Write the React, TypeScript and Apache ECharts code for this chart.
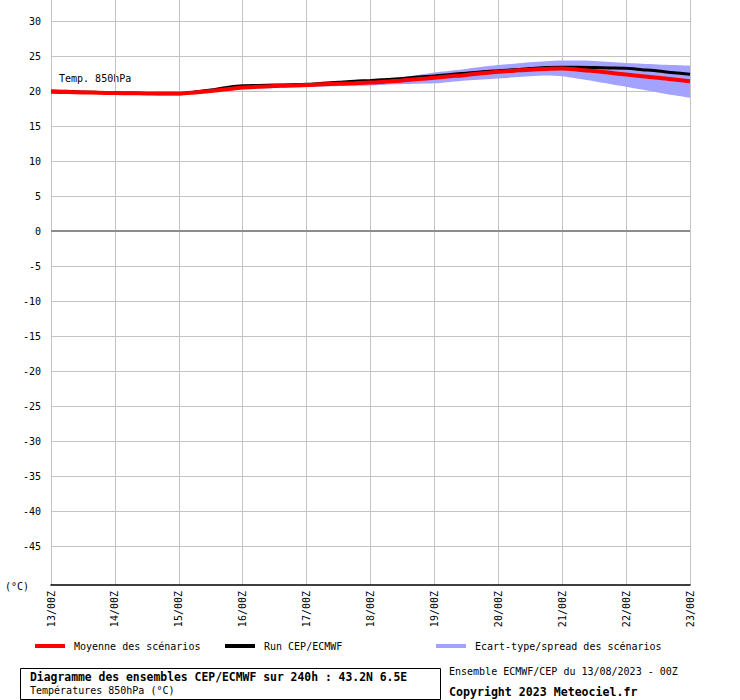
import React, { useEffect, useRef } from "react";
import * as echarts from "echarts";

const CATEGORIES = [
  "13/00Z", "13/06Z", "13/12Z", "13/18Z",
  "14/00Z", "14/06Z", "14/12Z", "14/18Z",
  "15/00Z", "15/06Z", "15/12Z", "15/18Z",
  "16/00Z", "16/06Z", "16/12Z", "16/18Z",
  "17/00Z", "17/06Z", "17/12Z", "17/18Z",
  "18/00Z", "18/06Z", "18/12Z", "18/18Z",
  "19/00Z", "19/06Z", "19/12Z", "19/18Z",
  "20/00Z", "20/06Z", "20/12Z", "20/18Z",
  "21/00Z", "21/06Z", "21/12Z", "21/18Z",
  "22/00Z", "22/06Z", "22/12Z", "22/18Z",
  "23/00Z",
];

// Moyenne des scénarios (ensemble mean)
const MEAN = [
  19.9, 19.85, 19.8, 19.75,
  19.7, 19.68, 19.66, 19.65,
  19.65, 19.8, 20.0, 20.25,
  20.5, 20.6, 20.7, 20.8,
  20.85, 20.95, 21.05, 21.12,
  21.2, 21.35, 21.5, 21.7,
  21.9, 22.1, 22.3, 22.55,
  22.75, 22.9, 23.05, 23.15,
  23.2, 23.05, 22.85, 22.6,
  22.35, 22.1, 21.9, 21.65,
  21.4,
];

// Run CEP/ECMWF (control run)
const RUN = [
  20.0, 19.95, 19.85, 19.8,
  19.75, 19.7, 19.65, 19.6,
  19.6, 19.85, 20.15, 20.5,
  20.75, 20.8, 20.85, 20.9,
  20.95, 21.1, 21.25, 21.4,
  21.5, 21.65, 21.8, 22.0,
  22.15, 22.35, 22.55, 22.75,
  22.9, 23.05, 23.2, 23.35,
  23.4, 23.4, 23.35, 23.3,
  23.25, 23.05, 22.85, 22.6,
  22.4,
];

// Spread band: upper and lower edges
const SPREAD_UPPER = [
  20.1, 20.05, 20.0, 19.95,
  19.9, 19.85, 19.85, 19.85,
  19.85, 20.0, 20.2, 20.45,
  20.65, 20.8, 20.9, 20.95,
  21.0, 21.15, 21.3, 21.4,
  21.5, 21.75, 22.0, 22.3,
  22.65, 22.9, 23.15, 23.45,
  23.7, 23.9, 24.1, 24.25,
  24.35, 24.35, 24.3, 24.15,
  24.0, 23.9, 23.8, 23.7,
  23.6,
];
const SPREAD_LOWER = [
  19.7, 19.65, 19.6, 19.55,
  19.5, 19.45, 19.45, 19.45,
  19.45, 19.6, 19.8, 20.05,
  20.3, 20.4, 20.45, 20.5,
  20.55, 20.6, 20.7, 20.75,
  20.8, 20.9, 21.0, 21.05,
  21.1, 21.3, 21.5, 21.65,
  21.8, 21.95, 22.1, 22.2,
  22.1, 21.75, 21.4, 21.0,
  20.6, 20.2, 19.8, 19.4,
  19.05,
];

const Y_MIN = -50;
const Y_MAX = 30;
const Y_STEP = 5;

const NAME_MEAN = "Moyenne des scénarios";
const NAME_RUN = "Run CEP/ECMWF";
const NAME_SPREAD = "Ecart-type/spread des scénarios";

const MONO = "DejaVu Sans Mono";

export default function App() {
  const ref = useRef<HTMLDivElement>(null);

  useEffect(() => {
    if (!ref.current) return;
    const chart = echarts.init(ref.current, undefined, { renderer: "svg" });
    const spreadWidth = SPREAD_UPPER.map((u, i) => +(u - SPREAD_LOWER[i]).toFixed(3));
    const legendBase = {
      orient: "horizontal",
      icon: "rect",
      itemWidth: 30,
      itemHeight: 4,
      top: 641,
      padding: 0,
      selectedMode: false,
      textStyle: { fontFamily: MONO, fontSize: 10, color: "#000", padding: [0, 0, 0, 4] },
    };
    chart.setOption({
      animation: false,
      backgroundColor: "#ffffff",
      grid: [
        { left: 51, right: 50, top: 21, height: 560, containLabel: false },
        { left: 51, right: 50, top: 0, height: 585, containLabel: false },
      ],
      legend: [
        { ...legendBase, left: 35, data: [NAME_MEAN] },
        { ...legendBase, left: 225, data: [NAME_RUN] },
        { ...legendBase, left: 436, data: [NAME_SPREAD] },
      ],
      xAxis: [
        {
          gridIndex: 0,
          type: "category",
          data: CATEGORIES,
          boundaryGap: false,
          show: false,
        },
        {
          gridIndex: 1,
          type: "category",
          data: CATEGORIES,
          boundaryGap: false,
          axisLine: { show: true, onZero: false, lineStyle: { color: "#000", width: 1.5 } },
          axisTick: { show: false },
          axisLabel: {
            interval: 3,
            rotate: 90,
            margin: 6,
            fontFamily: MONO,
            fontSize: 10,
            color: "#000",
          },
          splitLine: { show: true, interval: 3, lineStyle: { color: "#c3c3c3", width: 1 } },
        },
      ],
      yAxis: [
        {
          gridIndex: 0,
          type: "value",
          min: Y_MIN,
          max: Y_MAX,
          interval: Y_STEP,
          axisLine: { show: false },
          axisTick: { show: false },
          axisLabel: {
            margin: 10,
            fontFamily: MONO,
            fontSize: 10,
            color: "#000",
            formatter: (v: number) => (v === Y_MIN ? "" : String(v)),
          },
          splitLine: { show: true, showMinLine: false, lineStyle: { color: "#c3c3c3", width: 1 } },
        },
        { gridIndex: 1, type: "value", show: false },
      ],
      series: [
        {
          name: "spread-lower",
          type: "line",
          xAxisIndex: 0,
          yAxisIndex: 0,
          data: SPREAD_LOWER,
          stack: "band",
          smooth: 0.3,
          symbol: "none",
          silent: true,
          lineStyle: { opacity: 0 },
          itemStyle: { color: "#a3a3ff" },
        },
        {
          name: NAME_SPREAD,
          type: "line",
          xAxisIndex: 0,
          yAxisIndex: 0,
          data: spreadWidth,
          stack: "band",
          smooth: 0.3,
          symbol: "none",
          silent: true,
          lineStyle: { opacity: 0 },
          itemStyle: { color: "#a3a3ff" },
          areaStyle: { color: "#a3a3ff", opacity: 1 },
        },
        {
          name: NAME_RUN,
          type: "line",
          xAxisIndex: 0,
          yAxisIndex: 0,
          data: RUN,
          smooth: 0.3,
          symbol: "none",
          lineStyle: { color: "#000", width: 3 },
          itemStyle: { color: "#000" },
        },
        {
          name: NAME_MEAN,
          type: "line",
          xAxisIndex: 0,
          yAxisIndex: 0,
          data: MEAN,
          smooth: 0.3,
          symbol: "none",
          lineStyle: { color: "#ff0000", width: 4 },
          itemStyle: { color: "#ff0000" },
          markLine: {
            silent: true,
            symbol: "none",
            label: { show: false },
            lineStyle: { color: "#8c8c8c", width: 2, type: "solid" },
            data: [{ yAxis: 0 }],
          },
        },
      ],
      graphic: [
        {
          type: "text",
          left: 59,
          top: 73,
          style: { text: "Temp. 850hPa", font: `10px "${MONO}"`, fill: "#000" },
        },
        {
          type: "text",
          left: 5,
          top: 581,
          style: { text: "(°C)", font: `10px "${MONO}"`, fill: "#000" },
        },
        {
          type: "rect",
          shape: { x: 20.5, y: 668.5, width: 420, height: 31 },
          style: { fill: "none", stroke: "#000", lineWidth: 1 },
        },
        {
          type: "text",
          left: 30,
          top: 671,
          style: {
            text: "Diagramme des ensembles CEP/ECMWF sur 240h : 43.2N 6.5E",
            font: `bold 11.4px "${MONO}"`,
            fill: "#000",
          },
        },
        {
          type: "text",
          left: 30,
          top: 685,
          style: { text: "Températures 850hPa (°C)", font: `10px "${MONO}"`, fill: "#000" },
        },
        {
          type: "text",
          left: 449,
          top: 666,
          style: { text: "Ensemble ECMWF/CEP du 13/08/2023 - 00Z", font: `10px "${MONO}"`, fill: "#000" },
        },
        {
          type: "text",
          left: 449,
          top: 686,
          style: { text: "Copyright 2023 Meteociel.fr", font: `bold 11.6px "${MONO}"`, fill: "#000" },
        },
      ],
    });
    return () => chart.dispose();
  }, []);

  return <div ref={ref} style={{ width: 740, height: 700, position: "absolute", left: 0, top: 0 }} />;
}
